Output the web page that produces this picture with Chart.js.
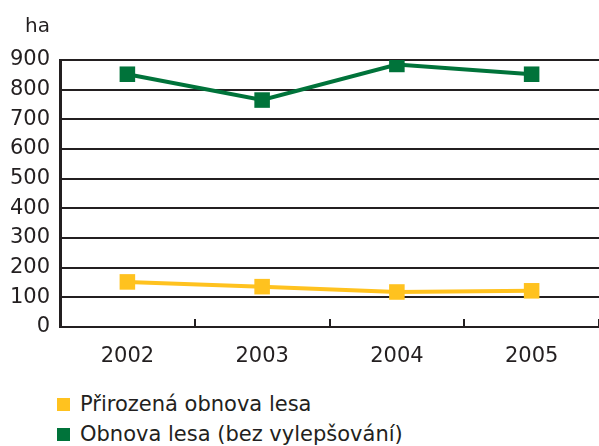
<!DOCTYPE html>
<html>
<head>
<meta charset="utf-8">
<script src="https://cdn.jsdelivr.net/npm/chart.js@4"></script>
<style>
  body { margin: 0; background: #fff; overflow: hidden; }
  #wrap { position: relative; width: 599px; height: 446px; overflow: hidden; }
  #legend { position: absolute; left: 57px; top: 389px; font-family: "DejaVu Sans", sans-serif; font-size: 21px; color: #231f20; }
  #legend div { height: 30px; display: flex; align-items: center; }
  #legend span.box { width: 13px; height: 13px; margin-right: 10px; display: inline-block; }
</style>
</head>
<body>
<div id="wrap">
  <canvas id="chart" width="610" height="377"></canvas>
  <div id="legend"></div>
</div>
<script>
// Données
const years = ['2002', '2003', '2004', '2005'];
const prirozena = [152, 136, 118, 122];
const obnova = [852, 765, 885, 852];
const yTicks = [0, 100, 200, 300, 400, 500, 600, 700, 800, 900];

const ink = '#231f20';
const font = { family: 'DejaVu Sans', size: 21 };

// petites graduations vers le haut sur l'axe X + unité "ha"
const extras = {
    id: 'extras',
    afterDraw(chart) {
        const ctx = chart.ctx;
        const x = chart.scales.x;
        const y = chart.scales.y;
        const area = chart.chartArea;
        ctx.save();
        ctx.strokeStyle = ink;
        ctx.lineWidth = 2;
        for (let i = 1; i <= years.length; i++) {
            const px = Math.round(x.getPixelForValue(i - 0.5));
            ctx.beginPath();
            ctx.moveTo(px, area.bottom);
            ctx.lineTo(px, area.bottom - 8);
            ctx.stroke();
        }
        ctx.fillStyle = ink;
        ctx.font = '20px "DejaVu Sans"';
        ctx.textAlign = 'right';
        ctx.textBaseline = 'middle';
        ctx.fillText('ha', y.right - 10, 27);
        ctx.restore();
    }
};

const chart = new Chart(document.getElementById('chart').getContext('2d'), {
    type: 'line',
    data: {
        labels: years,
        datasets: [{
            label: 'Přirozená obnova lesa',
            data: prirozena,
            borderColor: '#ffc21f',
            backgroundColor: '#ffc21f',
            borderWidth: 4,
            pointStyle: 'rect',
            pointRadius: 11,
            pointBorderWidth: 0,
            tension: 0
        }, {
            label: 'Obnova lesa (bez vylepšování)',
            data: obnova,
            borderColor: '#00733a',
            backgroundColor: '#00733a',
            borderWidth: 4,
            pointStyle: 'rect',
            pointRadius: 11,
            pointBorderWidth: 0,
            tension: 0
        }]
    },
    options: {
        responsive: false,
        animation: false,
        layout: { padding: { top: 60, right: 0, bottom: 11, left: 0 } },
        plugins: {
            legend: { display: false },
            tooltip: { enabled: false }
        },
        scales: {
            x: {
                offset: true,
                grid: { display: false },
                border: { display: false },
                ticks: { color: ink, font: font, padding: 9, maxRotation: 0 },
                afterFit: (s) => { s.height = 39; s.paddingLeft = 0; s.paddingRight = 0; }
            },
            y: {
                min: 0,
                max: 900,
                afterBuildTicks: (s) => { s.ticks = yTicks.map(v => ({ value: v })); },
                afterFit: (s) => { s.width = 60; s.paddingTop = 0; s.paddingBottom = 0; },
                grid: { color: ink, lineWidth: 2, drawTicks: false },
                border: { color: ink, width: 3 },
                ticks: { color: ink, font: font, padding: 10 }
            }
        }
    },
    plugins: [extras]
});

// légende HTML, en colonne
const legend = document.getElementById('legend');
chart.data.datasets.forEach(ds => {
    const row = document.createElement('div');
    const box = document.createElement('span');
    box.className = 'box';
    box.style.background = ds.borderColor;
    row.appendChild(box);
    row.appendChild(document.createTextNode(ds.label));
    legend.appendChild(row);
});
</script>
</body>
</html>
